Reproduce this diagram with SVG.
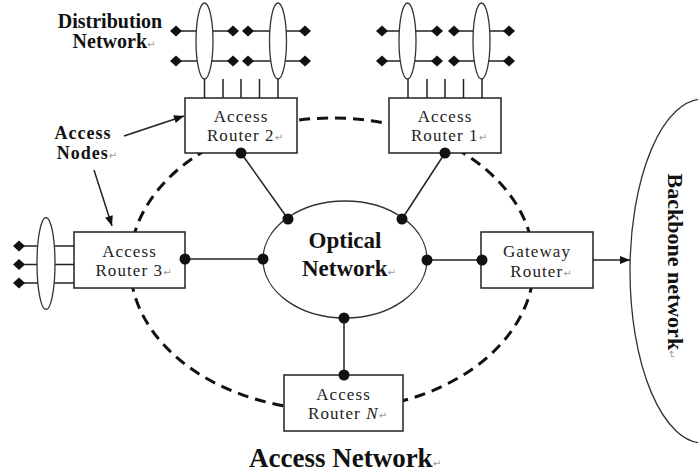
<svg xmlns="http://www.w3.org/2000/svg" width="698" height="472" viewBox="0 0 698 472">
  <defs>
    <marker id="arrow" viewBox="0 0 10 10" refX="10" refY="5" markerWidth="11" markerHeight="10" markerUnits="userSpaceOnUse" orient="auto">
      <path d="M0,1 L10,5 L0,9 z" fill="#111"/>
    </marker>
    <path id="dia" d="M-6,0 L0,-5.5 L6,0 L0,5.5 z" fill="#111"/>
  </defs>
  <style>
    .box{fill:#fff;stroke:#222;stroke-width:1.5}
    .ell{fill:#fff;stroke:#333;stroke-width:1.3}
    .ln{stroke:#222;stroke-width:1.5;fill:none}
    .dot{fill:#111}
    .rt{font-family:"Liberation Serif","Times New Roman",serif;font-size:17px;letter-spacing:1.1px;fill:#222;text-anchor:middle}
    .bold{font-family:"Liberation Serif","Times New Roman",serif;font-weight:bold;fill:#111;text-anchor:middle}
    .rm{font-family:"DejaVu Sans",sans-serif;font-size:10px;letter-spacing:0;font-weight:normal;font-style:normal;fill:#999}
    .ring{fill:none;stroke:#111;stroke-width:3;stroke-dasharray:11 7}
  </style>

  <!-- access network boundary -->
  <ellipse id="access-ring" class="ring" cx="332" cy="264" rx="202" ry="146"/>

  <!-- backbone -->
  <g id="backbone">
    <ellipse class="ell" cx="703" cy="271" rx="73" ry="172"/>
    <text class="bold" font-size="22" transform="translate(668,266) rotate(90)">Backbone network<tspan class="rm">↵</tspan></text>
  </g>

  <!-- connectors -->
  <g id="connectors">
    <line class="ln" x1="241" y1="153" x2="288" y2="219"/>
    <line class="ln" x1="445" y1="153" x2="402" y2="219"/>
    <line class="ln" x1="185" y1="259" x2="263" y2="259"/>
    <line class="ln" x1="427" y1="260" x2="482" y2="260" stroke-width="2.3"/>
    <line class="ln" x1="344" y1="375" x2="344" y2="318"/>
    <line class="ln" x1="593" y1="260" x2="630" y2="260" marker-end="url(#arrow)"/>
    <line class="ln" x1="124" y1="136" x2="184" y2="116" marker-end="url(#arrow)"/>
    <line class="ln" x1="94" y1="170" x2="112" y2="226" marker-end="url(#arrow)"/>
  </g>

  <!-- optical core -->
  <g id="optical-network">
    <ellipse class="ell" cx="345" cy="259.5" rx="82" ry="58.5"/>
    <text class="bold" font-size="23" x="345" y="248">Optical</text>
    <text class="bold" font-size="23" x="349" y="276">Network<tspan class="rm">↵</tspan></text>
  </g>

  <!-- Access Router 2 with its distribution network -->
  <g id="access-router-2">
    <g class="ln">
      <line x1="176" y1="31" x2="233" y2="31"/>
      <line x1="176" y1="61" x2="233" y2="61"/>
      <line x1="248" y1="31" x2="305" y2="31"/>
      <line x1="248" y1="61" x2="305" y2="61"/>
      <line x1="204.5" y1="79" x2="204.5" y2="98"/>
      <line x1="223" y1="79" x2="223" y2="98"/>
      <line x1="241" y1="79" x2="241" y2="98"/>
      <line x1="259.5" y1="79" x2="259.5" y2="98"/>
      <line x1="278" y1="79" x2="278" y2="98"/>
    </g>
    <use href="#dia" x="176" y="31"/><use href="#dia" x="233" y="31"/>
    <use href="#dia" x="176" y="61"/><use href="#dia" x="233" y="61"/>
    <use href="#dia" x="248" y="31"/><use href="#dia" x="305" y="31"/>
    <use href="#dia" x="248" y="61"/><use href="#dia" x="305" y="61"/>
    <ellipse class="ell" cx="204.5" cy="41" rx="8.5" ry="38"/>
    <ellipse class="ell" cx="278" cy="41" rx="8.5" ry="38"/>
    <rect class="box" x="185" y="98" width="112" height="55"/>
    <text class="rt" x="241" y="122">Access</text>
    <text class="rt" x="245" y="141">Router 2<tspan class="rm">↵</tspan></text>
  </g>

  <!-- Access Router 1 with its distribution network -->
  <g id="access-router-1">
    <g class="ln">
      <line x1="382" y1="31" x2="437" y2="31"/>
      <line x1="382" y1="61" x2="437" y2="61"/>
      <line x1="454" y1="31" x2="509" y2="31"/>
      <line x1="454" y1="61" x2="509" y2="61"/>
      <line x1="408" y1="79" x2="408" y2="98"/>
      <line x1="427" y1="79" x2="427" y2="98"/>
      <line x1="445" y1="79" x2="445" y2="98"/>
      <line x1="463.5" y1="79" x2="463.5" y2="98"/>
      <line x1="482" y1="79" x2="482" y2="98"/>
    </g>
    <use href="#dia" x="382" y="31"/><use href="#dia" x="437" y="31"/>
    <use href="#dia" x="382" y="61"/><use href="#dia" x="437" y="61"/>
    <use href="#dia" x="454" y="31"/><use href="#dia" x="509" y="31"/>
    <use href="#dia" x="454" y="61"/><use href="#dia" x="509" y="61"/>
    <ellipse class="ell" cx="407.5" cy="41" rx="8.5" ry="38"/>
    <ellipse class="ell" cx="481.5" cy="41" rx="8.5" ry="38"/>
    <rect class="box" x="389" y="98" width="112" height="55"/>
    <text class="rt" x="445" y="122">Access</text>
    <text class="rt" x="449" y="141">Router 1<tspan class="rm">↵</tspan></text>
  </g>

  <!-- Access Router 3 with its distribution network -->
  <g id="access-router-3">
    <g class="ln">
      <line x1="19" y1="246" x2="74" y2="246"/>
      <line x1="19" y1="264.5" x2="74" y2="264.5"/>
      <line x1="19" y1="283" x2="74" y2="283"/>
    </g>
    <use href="#dia" x="19" y="246"/>
    <use href="#dia" x="19" y="264.5"/>
    <use href="#dia" x="19" y="283"/>
    <ellipse class="ell" cx="46" cy="263.5" rx="9" ry="46"/>
    <rect class="box" x="74" y="232" width="111" height="56"/>
    <text class="rt" x="129.5" y="256.5">Access</text>
    <text class="rt" x="133.5" y="276">Router 3<tspan class="rm">↵</tspan></text>
  </g>

  <!-- Gateway Router -->
  <g id="gateway-router">
    <rect class="box" x="481" y="232" width="112" height="56"/>
    <text class="rt" x="537" y="257">Gateway</text>
    <text class="rt" x="541" y="277">Router<tspan class="rm">↵</tspan></text>
  </g>

  <!-- Access Router N -->
  <g id="access-router-n">
    <rect class="box" x="284" y="375" width="119" height="56"/>
    <text class="rt" x="343.5" y="399.5">Access</text>
    <text class="rt" x="347.5" y="419">Router <tspan font-style="italic">N</tspan><tspan class="rm">↵</tspan></text>
  </g>

  <!-- attachment points -->
  <g id="ports" class="dot">
    <circle cx="241" cy="153" r="5.5"/>
    <circle cx="288" cy="219" r="5.5"/>
    <circle cx="445" cy="153" r="5.5"/>
    <circle cx="402" cy="219" r="5.5"/>
    <circle cx="185" cy="259" r="5.5"/>
    <circle cx="263" cy="259" r="5.5"/>
    <circle cx="427" cy="260" r="5.5"/>
    <circle cx="482" cy="260" r="5.5"/>
    <circle cx="344" cy="375" r="5.5"/>
    <circle cx="344" cy="318" r="5.5"/>
  </g>

  <!-- labels -->
  <g id="label-distribution">
    <text class="bold" font-size="20" x="110" y="28">Distribution</text>
    <text class="bold" font-size="20" x="114" y="48">Network<tspan class="rm">↵</tspan></text>
  </g>
  <g id="label-access-nodes">
    <text class="bold" font-size="18" letter-spacing="1" x="83" y="139">Access</text>
    <text class="bold" font-size="18" letter-spacing="1" x="87" y="159">Nodes<tspan class="rm">↵</tspan></text>
  </g>
  <g id="label-access-network">
    <text class="bold" font-size="27" x="345" y="467">Access Network<tspan class="rm">↵</tspan></text>
  </g>
</svg>
